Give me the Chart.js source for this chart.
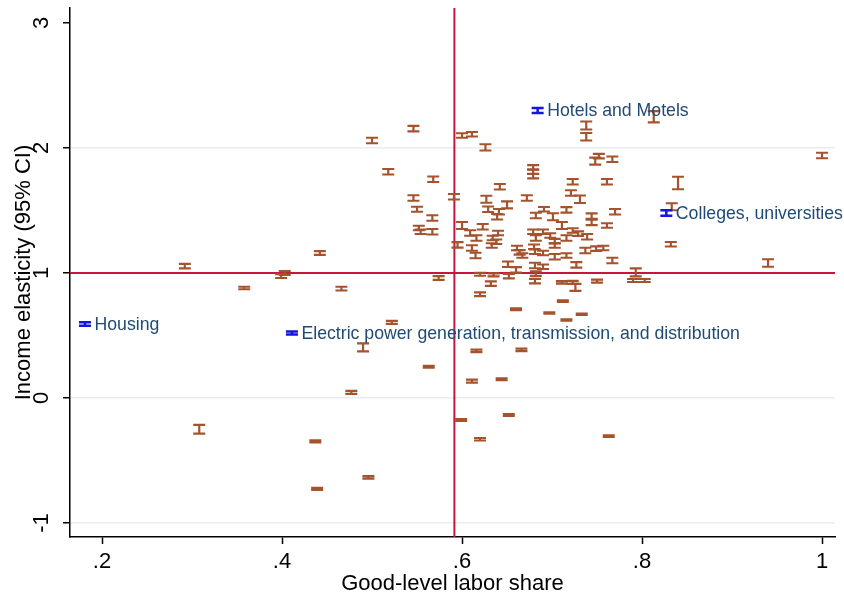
<!DOCTYPE html>
<html>
<head>
<meta charset="utf-8">
<script src="https://cdn.jsdelivr.net/npm/chart.js@4.4.1/dist/chart.umd.min.js"></script>
<style>
  html, body { margin: 0; padding: 0; background: #ffffff; }
  #wrap { width: 844px; height: 592px; }
</style>
</head>
<body>
<div id="wrap"><canvas id="chart" width="844" height="592"></canvas></div>
<script>
// Industry estimates: good-level labor share, income elasticity and 95% CI half-width
const laborShare = [
  0.292, 0.308, 0.358, 0.399, 0.403, 0.442, 0.466, 0.437, 0.439, 0.477,
  0.490, 0.496, 0.500, 0.518, 0.522, 0.546, 0.546, 0.550, 0.552, 0.554,
  0.567, 0.567, 0.568, 0.563, 0.574, 0.591, 0.595, 0.600, 0.611, 0.626,
  0.600, 0.620, 0.616, 0.666, 0.611, 0.644, 0.599, 0.652, 0.620, 0.660,
  0.697, 0.712, 0.716, 0.733, 0.763, 0.738, 0.738, 0.752, 0.748, 0.767,
  0.679, 0.679, 0.679, 0.642, 0.723, 0.627, 0.672, 0.721, 0.731, 0.761,
  0.813, 1.000, 0.840, 0.833, 0.832, 0.940, 0.793, 0.790, 0.803, 0.770,
  0.744, 0.744, 0.761, 0.757, 0.749, 0.767, 0.750, 0.629, 0.650, 0.641,
  0.639, 0.691, 0.682, 0.701, 0.716, 0.711, 0.623, 0.609, 0.616, 0.640,
  0.634, 0.638, 0.633, 0.611, 0.615, 0.679, 0.690, 0.682, 0.698, 0.703,
  0.703, 0.716, 0.723, 0.729, 0.739, 0.737, 0.661, 0.664, 0.667, 0.680,
  0.681, 0.690, 0.703, 0.716, 0.727, 0.651, 0.660, 0.681, 0.690, 0.682,
  0.681, 0.620, 0.635, 0.632, 0.652, 0.711, 0.723, 0.726
];
const elasticity = [
  1.055, -0.250, 0.880, 0.975, 1.000, 1.160, 0.875, -0.347, -0.727, 0.045,
  0.405, -0.635, 2.060, 1.810, 0.605, 2.155, 1.600, 1.510, 1.360, 1.330,
  1.440, 1.330, 1.750, 0.250, 0.960, 1.610, 1.225, 2.100, 2.110, 2.005,
  1.380, 0.830, 0.377, 0.385, 0.135, 0.150, -0.176, -0.136, -0.330, 0.710,
  0.680, 0.775, 0.624, 0.670, -0.305, 2.180, 2.090, 1.935, 1.895, 1.910,
  1.845, 1.810, 1.775, 1.690, 1.730, 1.590, 1.600, 1.640, 1.590, 1.730,
  2.250, 1.940, 1.720, 1.530, 1.230, 1.080, 1.005, 0.940, 0.940, 1.490,
  1.455, 1.405, 1.380, 1.200, 1.195, 1.100, 0.935, 1.510, 1.545, 1.490,
  1.450, 1.510, 1.460, 1.450, 1.505, 1.380, 1.370, 1.320, 1.280, 1.320,
  1.280, 1.250, 1.220, 1.200, 1.140, 1.330, 1.330, 1.280, 1.300, 1.255,
  1.220, 1.280, 1.340, 1.315, 1.290, 1.180, 1.200, 1.165, 1.140, 1.210,
  1.170, 1.160, 1.130, 1.140, 1.065, 1.070, 1.025, 1.060, 1.050, 0.995,
  0.935, 0.990, 0.985, 0.915, 0.975, 0.925, 0.925, 0.885
];
const ciHalfWidth = [
  0.018, 0.035, 0.010, 0.015, 0.015, 0.015, 0.015, 0.008, 0.008, 0.012,
  0.032, 0.010, 0.022, 0.022, 0.012, 0.022, 0.022, 0.020, 0.018, 0.018,
  0.022, 0.022, 0.022, 0.008, 0.015, 0.022, 0.022, 0.018, 0.018, 0.025,
  0.028, 0.015, 0.010, 0.010, 0.012, 0.008, 0.008, 0.008, 0.010, 0.008,
  0.006, 0.006, 0.005, 0.006, 0.006, 0.032, 0.030, 0.018, 0.028, 0.022,
  0.018, 0.018, 0.018, 0.022, 0.022, 0.028, 0.022, 0.022, 0.030, 0.022,
  0.045, 0.022, 0.050, 0.028, 0.018, 0.030, 0.032, 0.012, 0.012, 0.022,
  0.022, 0.022, 0.018, 0.018, 0.018, 0.022, 0.012, 0.022, 0.028, 0.022,
  0.022, 0.018, 0.022, 0.028, 0.022, 0.028, 0.022, 0.022, 0.022, 0.018,
  0.018, 0.018, 0.018, 0.022, 0.022, 0.018, 0.018, 0.022, 0.018, 0.018,
  0.018, 0.022, 0.018, 0.018, 0.022, 0.022, 0.018, 0.018, 0.018, 0.018,
  0.018, 0.018, 0.022, 0.018, 0.022, 0.022, 0.022, 0.022, 0.018, 0.018,
  0.018, 0.012, 0.012, 0.018, 0.018, 0.010, 0.012, 0.028
];

// Highlighted industries
const namedIndustries = [
  'Hotels and Motels',
  'Colleges, universities',
  'Housing',
  'Electric power generation, transmission, and distribution'
];
const namedShare = [0.684, 0.827, 0.181, 0.411];
const namedElasticity = [2.300, 1.480, 0.592, 0.520];
const namedCiHalf = [0.020, 0.022, 0.014, 0.012];

// Axis ticks
const xTicks = [0.2, 0.4, 0.6, 0.8, 1];
const xTickLabels = ['.2', '.4', '.6', '.8', '1'];
const yTicks = [-1, 0, 1, 2, 3];
const yTickLabels = ['-1', '0', '1', '2', '3'];

// Reference lines
const shareCutoff = 0.5915;
const unitElasticity = 1;

const FONT = '"Liberation Sans", Arial, Helvetica, sans-serif';
const BROWN = '#a4532d';
const BLUE = '#1515e0';
const NAVY = '#1f4a74';
const RED = '#c8153e';

const toPoints = (xs, ys) => xs.map((x, i) => ({ x: x, y: ys[i] }));

// Vertical CI segment with horizontal end caps, one per data point
function drawCaps(chart, dsIndex, halfWidths, color, width) {
  const { ctx, scales } = chart;
  const meta = chart.getDatasetMeta(dsIndex);
  const ys = chart.data.datasets[dsIndex].data;
  const capHalf = 6;
  ctx.save();
  ctx.strokeStyle = color;
  ctx.lineWidth = width;
  ctx.lineCap = 'butt';
  meta.data.forEach((pt, i) => {
    const v = ys[i].y;
    const top = scales.y.getPixelForValue(v + halfWidths[i]);
    const bot = scales.y.getPixelForValue(v - halfWidths[i]);
    const x = pt.x;
    ctx.beginPath();
    ctx.moveTo(x, top);
    ctx.lineTo(x, bot);
    ctx.moveTo(x - capHalf, top);
    ctx.lineTo(x + capHalf, top);
    ctx.moveTo(x - capHalf, bot);
    ctx.lineTo(x + capHalf, bot);
    ctx.stroke();
  });
  ctx.restore();
}

const intervalPlugin = {
  id: 'intervalPlugin',
  beforeDatasetsDraw(chart) {
    const { ctx, chartArea: a, scales } = chart;
    const xc = scales.x.getPixelForValue(shareCutoff);
    const yc = scales.y.getPixelForValue(unitElasticity);
    ctx.save();
    ctx.strokeStyle = RED;
    ctx.lineWidth = 2;
    ctx.beginPath();
    ctx.moveTo(xc, a.top);
    ctx.lineTo(xc, a.bottom);
    ctx.moveTo(a.left, yc);
    ctx.lineTo(a.right, yc);
    ctx.stroke();
    ctx.restore();
  },
  afterDatasetsDraw(chart) {
    drawCaps(chart, 0, ciHalfWidth, BROWN, 2.2);
    drawCaps(chart, 1, namedCiHalf, BLUE, 2.5);
    const { ctx } = chart;
    const meta = chart.getDatasetMeta(1);
    ctx.save();
    ctx.fillStyle = NAVY;
    ctx.font = '17.7px ' + FONT;
    ctx.textBaseline = 'middle';
    ctx.textAlign = 'left';
    meta.data.forEach((pt, i) => {
      ctx.fillText(namedIndustries[i], pt.x + 9.5, pt.y + 1);
    });
    ctx.restore();
  }
};

const noEdgePadding = s => {
  s.paddingTop = 0;
  s.paddingBottom = 0;
  s.paddingLeft = 0;
  s.paddingRight = 0;
};

new Chart(document.getElementById('chart'), {
  type: 'scatter',
  data: {
    datasets: [
      { label: 'Industries', data: toPoints(laborShare, elasticity), pointRadius: 0, pointHoverRadius: 0, borderColor: BROWN },
      { label: 'Highlighted', data: toPoints(namedShare, namedElasticity), pointRadius: 0, pointHoverRadius: 0, borderColor: BLUE }
    ]
  },
  options: {
    responsive: false,
    animation: false,
    devicePixelRatio: 1,
    layout: { padding: { top: 8, right: 9, left: 0, bottom: 0 } },
    plugins: { legend: { display: false }, tooltip: { enabled: false } },
    scales: {
      x: {
        type: 'linear',
        min: 0.1644,
        max: 1.0144,
        afterBuildTicks: s => { s.ticks = xTicks.map(v => ({ value: v })); },
        afterFit: s => { s.height = 55; noEdgePadding(s); },
        ticks: {
          autoSkip: false,
          maxRotation: 0,
          padding: 5,
          color: '#000',
          font: { family: FONT, size: 22 },
          callback: v => xTickLabels[xTicks.indexOf(v)]
        },
        grid: { drawOnChartArea: false, tickLength: 7, tickColor: '#000', tickWidth: 1.5 },
        border: { color: '#000', width: 1.5 },
        title: {
          display: true,
          text: 'Good-level labor share',
          color: '#000',
          font: { family: FONT, size: 22, lineHeight: 1 },
          padding: { top: 0, bottom: -3 }
        }
      },
      y: {
        type: 'linear',
        min: -1.112,
        max: 3.12,
        afterBuildTicks: s => { s.ticks = yTicks.map(v => ({ value: v })); },
        afterFit: s => { s.width = 70; noEdgePadding(s); },
        ticks: {
          autoSkip: false,
          minRotation: 90,
          maxRotation: 90,
          crossAlign: 'center',
          padding: 11,
          color: '#000',
          font: { family: FONT, size: 22 },
          callback: v => yTickLabels[yTicks.indexOf(v)]
        },
        grid: {
          color: c => (c.tick && c.tick.value === 3) ? 'rgba(0,0,0,0)' : '#e6eef2',
          lineWidth: 1.5,
          tickLength: 7,
          tickColor: '#000',
          tickWidth: 1.5
        },
        border: { color: '#000', width: 1.5 },
        title: {
          display: true,
          text: 'Income elasticity (95% CI)',
          color: '#000',
          font: { family: FONT, size: 22, lineHeight: 1.2 },
          padding: { top: 11, bottom: 0 }
        }
      }
    }
  },
  plugins: [intervalPlugin]
});
</script>
</body>
</html>
